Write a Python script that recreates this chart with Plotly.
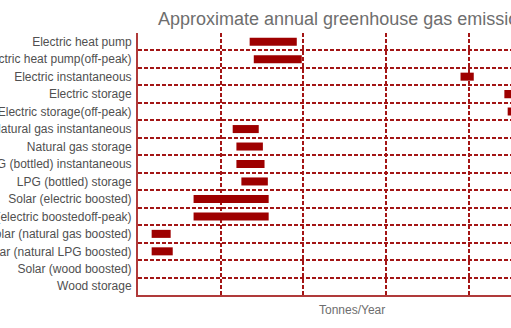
import plotly.graph_objects as go

categories = [
    "Electric heat pump",
    "Electric heat pump(off-peak)",
    "Electric instantaneous",
    "Electric storage",
    "Electric storage(off-peak)",
    "Natural gas instantaneous",
    "Natural gas storage",
    "LPG (bottled) instantaneous",
    "LPG (bottled) storage",
    "Solar (electric boosted)",
    "Solar (electric boostedoff-peak)",
    "Solar (natural gas boosted)",
    "Solar (natural LPG boosted)",
    "Solar (wood boosted)",
    "Wood storage",
]
low = [1.35, 1.40, 3.90, 4.43, 4.47, 1.145, 1.19, 1.19, 1.25, 0.672, 0.672, 0.165, 0.165, None, None]
high = [1.92, 1.98, 4.06, 4.85, 4.90, 1.46, 1.51, 1.53, 1.57, 1.58, 1.58, 0.395, 0.42, None, None]

span = [(h - l) if (h is not None and l is not None) else None for l, h in zip(low, high)]

RED = "#9e0000"
GRID = "#a31515"

fig = go.Figure(
    go.Bar(
        y=categories,
        x=span,
        base=low,
        orientation="h",
        marker=dict(color=RED, line=dict(width=0)),
        width=0.46,
        hoverinfo="skip",
    )
)

fig.update_layout(
    width=511,
    height=328,
    margin=dict(l=138, r=0, t=33, b=33, autoexpand=False),
    paper_bgcolor="white",
    plot_bgcolor="white",
    showlegend=False,
    font=dict(family="Liberation Sans, Arial, sans-serif", size=12, color="#505050"),
    title=dict(
        text="Approximate annual greenhouse gas emissions",
        x=158 / 511,
        xref="container",
        xanchor="left",
        y=1 - 19 / 328,
        yref="container",
        yanchor="middle",
        font=dict(size=18, color="#6e6e6e"),
        automargin=False,
    ),
    xaxis=dict(
        range=[0, 373 / 82.7],
        dtick=1,
        tick0=0,
        showticklabels=False,
        ticks="",
        showgrid=True,
        gridcolor=GRID,
        gridwidth=2,
        griddash="4px,2px",
        zeroline=False,
        showline=True,
        linecolor="#b03a3a",
        linewidth=2,
        automargin=False,
        fixedrange=True,
    ),
    yaxis=dict(
        type="category",
        categoryorder="array",
        categoryarray=categories,
        autorange="reversed",
        tickson="boundaries",
        ticks="",
        showgrid=True,
        gridcolor=GRID,
        gridwidth=2,
        griddash="4px,2px",
        zeroline=False,
        showline=True,
        linecolor="#b03a3a",
        linewidth=2,
        ticklabelstandoff=2,
        automargin=False,
        tickfont=dict(size=12, color="#505050"),
        fixedrange=True,
    ),
    annotations=[
        dict(
            text="Tonnes/Year",
            xref="paper",
            yref="paper",
            x=(352 - 138) / 373,
            y=0,
            yshift=-15,
            xanchor="center",
            yanchor="middle",
            showarrow=False,
            font=dict(size=12, color="#6e6e6e"),
        )
    ],
)

fig.write_html("out.html")
